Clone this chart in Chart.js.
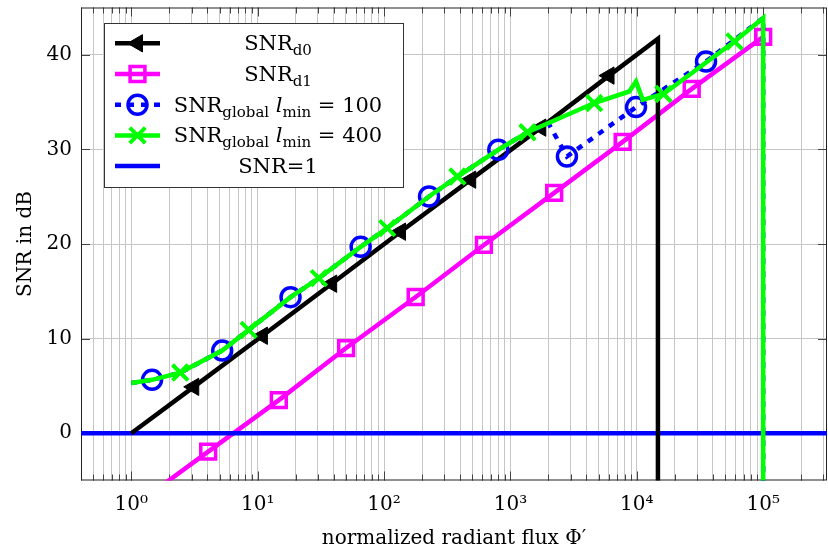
<!DOCTYPE html>
<html><head><meta charset="utf-8">
<script src="https://cdn.jsdelivr.net/npm/chart.js@4.4.1/dist/chart.umd.min.js"></script>
<style>html,body{margin:0;padding:0;background:#fff}canvas{display:block}</style>
</head><body>
<canvas id="c" width="828" height="550" style="width:828px;height:550px"></canvas>
<script>
// ---------------- data ----------------
const xMajorValues = [1, 10, 100, 1000, 10000, 100000];
const xTickLabels = ['10\u2070', '10\u00B9', '10\u00B2', '10\u00B3', '10\u2074', '10\u2075'];
const yTickValues = [0, 10, 20, 30, 40];
const yTickLabels = ['0', '10', '20', '30', '40'];
const xTitle = 'normalized radiant flux \u03A6\u2032';
const yTitle = 'SNR in dB';

// SNR_d0 (black, left triangles)
const d0X = [1, 3.12, 10.9, 38.5, 135, 485, 1740, 6030, 14700, 14700];
const d0Y = [0, 4.9, 10.3, 15.8, 21.3, 26.8, 32.3, 37.8, 41.7, -10];
const d0Marks = [1, 2, 3, 4, 5, 6, 7];

// SNR_d1 (magenta, squares)
const d1X = [1, 4.06, 14.7, 50.1, 178, 617, 2220, 7730, 27200, 100000];
const d1Y = [-7.9, -1.95, 3.5, 9.0, 14.4, 19.9, 25.4, 30.8, 36.4, 41.9];
const d1Marks = [1, 2, 3, 4, 5, 6, 7, 8, 9];

// SNR_global, l_min = 100 (blue dotted, circles)
const g100X = [1, 1.46, 2.44, 5.24, 8.49, 18.2, 30.5, 65.3, 106, 227, 381, 802, 1365, 2010, 2800, 9860, 35300, 100000, 100000];
const g100Y = [5.3, 5.64, 6.41, 8.73, 10.92, 14.38, 16.39, 19.7, 21.68, 25.02, 27.13, 29.96, 31.81, 32.7, 29.25, 34.47, 39.29, 43.9, -10];
const g100Marks = [1, 3, 5, 7, 9, 11, 14, 15, 16];

// SNR_global, l_min = 400 (green, crosses)
const g400X = [1, 1.46, 2.44, 5.24, 8.49, 18.2, 30.5, 65.3, 106, 227, 381, 802, 1365, 4600, 8710, 9860, 11150, 16250, 59300, 100000, 100000];
const g400Y = [5.3, 5.64, 6.41, 8.73, 10.92, 14.38, 16.39, 19.7, 21.68, 25.02, 27.13, 29.96, 31.81, 34.9, 36.12, 37.18, 35.24, 35.86, 41.41, 43.9, -10];
const g400Marks = [2, 4, 6, 8, 10, 12, 13, 17, 18];

// SNR = 1 reference line
const snr1X = [0.1, 1000000];
const snr1Y = [0, 0];

// legend texts: [text, kind]  kind: n = normal, sub = subscript, it = italic
const legendLabels = [
  [['SNR', 'n'], ['d0', 'sub']],
  [['SNR', 'n'], ['d1', 'sub']],
  [['SNR', 'n'], ['global', 'sub'], [' ', 'n'], ['l', 'it'], ['min', 'sub'], [' = 100', 'n']],
  [['SNR', 'n'], ['global', 'sub'], [' ', 'n'], ['l', 'it'], ['min', 'sub'], [' = 400', 'n']],
  [['SNR=1', 'n']]
];

const xMin = 0.4, xMax = 3.2e5, yMin = -5, yMax = 45;

// ---------------- chart ----------------
const FONT = '"DejaVu Serif", serif';
Chart.defaults.font.family = FONT;
Chart.defaults.color = '#000';

function pts(xs, ys) { return xs.map((x, i) => ({x: x, y: ys[i]})); }
function markR(list, r) { return ctx => list.includes(ctx.dataIndex) ? r : 0; }

const datasets = [
  {label: 'd0', data: pts(d0X, d0Y), borderColor: '#000', backgroundColor: '#000', borderWidth: 4.5,
   pointStyle: 'triangle', pointRotation: -90, pointRadius: markR(d0Marks, 10), pointBorderWidth: 1,
   pointBackgroundColor: '#000', pointBorderColor: '#000', order: 2},
  {label: 'd1', data: pts(d1X, d1Y), borderColor: '#ff00ff', backgroundColor: 'rgba(0,0,0,0)', borderWidth: 4.5,
   pointStyle: 'rect', pointRadius: markR(d1Marks, 10.5), pointBorderWidth: 3.5,
   pointBackgroundColor: 'rgba(0,0,0,0)', pointBorderColor: '#ff00ff', order: 4},
  {label: 'g100', data: pts(g100X, g100Y), borderColor: '#0000ff', backgroundColor: 'rgba(0,0,0,0)', borderWidth: 4.5,
   borderDash: [6, 7], pointStyle: 'circle', pointRadius: markR(g100Marks, 9.5), pointBorderWidth: 3.5,
   pointBackgroundColor: 'rgba(0,0,0,0)', pointBorderColor: '#0000ff', order: 1},
  {label: 'g400', data: pts(g400X, g400Y), borderColor: '#00ff00', backgroundColor: 'rgba(0,0,0,0)', borderWidth: 4.5,
   pointStyle: 'crossRot', pointRadius: markR(g400Marks, 11), pointBorderWidth: 4,
   pointBackgroundColor: 'rgba(0,0,0,0)', pointBorderColor: '#00ff00', order: 0},
  {label: 'snr1', data: pts(snr1X, snr1Y), borderColor: '#0000ff', backgroundColor: 'rgba(0,0,0,0)', borderWidth: 4.5,
   pointRadius: 0, order: 3}
];
datasets.forEach(d => { d.clip = 0; d.tension = 0; d.fill = false; d.borderJoinStyle = 'miter'; d.pointHoverRadius = 0; });

function drawMarker(ctx, ds, x, y) {
  const r = ds.pointStyle === 'triangle' ? 10 : ds.pointStyle === 'rect' ? 10.5 : ds.pointStyle === 'circle' ? 9.5 : 11;
  ctx.save();
  ctx.setLineDash([]);
  ctx.lineWidth = ds.pointBorderWidth;
  ctx.strokeStyle = ds.pointBorderColor;
  ctx.fillStyle = ds.pointBackgroundColor;
  ctx.beginPath();
  if (ds.pointStyle === 'triangle') {
    let a = (ds.pointRotation || 0) * Math.PI / 180;
    for (let k = 0; k < 3; k++) {
      const px = x + Math.sin(a) * r, py = y - Math.cos(a) * r;
      if (k === 0) ctx.moveTo(px, py); else ctx.lineTo(px, py);
      a += 2 * Math.PI / 3;
    }
    ctx.closePath(); ctx.fill(); ctx.stroke();
  } else if (ds.pointStyle === 'rect') {
    const s = Math.SQRT1_2 * r;
    ctx.rect(x - s, y - s, 2 * s, 2 * s); ctx.stroke();
  } else if (ds.pointStyle === 'circle') {
    ctx.arc(x, y, r, 0, 2 * Math.PI); ctx.stroke();
  } else if (ds.pointStyle === 'crossRot') {
    const s = Math.SQRT1_2 * r;
    ctx.moveTo(x - s, y - s); ctx.lineTo(x + s, y + s);
    ctx.moveTo(x - s, y + s); ctx.lineTo(x + s, y - s); ctx.stroke();
  }
  ctx.restore();
}

function drawRich(ctx, parts, cx, base) {
  const fonts = {n: '21px ' + FONT, sub: '15px ' + FONT, it: 'italic 21px ' + FONT};
  let w = 0;
  parts.forEach(p => { ctx.font = fonts[p[1]]; w += ctx.measureText(p[0]).width; });
  let x = cx - w / 2;
  ctx.textAlign = 'left'; ctx.textBaseline = 'alphabetic'; ctx.fillStyle = '#000';
  parts.forEach(p => {
    ctx.font = fonts[p[1]];
    ctx.fillText(p[0], x, p[1] === 'sub' ? base + 5 : base);
    x += ctx.measureText(p[0]).width;
  });
}

const framePlugin = {
  id: 'frame',
  beforeDatasetsDraw(chart) {
    const {ctx, chartArea: a, scales} = chart;
    ctx.save();
    ctx.strokeStyle = '#444'; ctx.lineWidth = 1;
    ctx.beginPath();
    scales.x.ticks.forEach(t => {
      const px = Math.round(scales.x.getPixelForValue(t.value)) + 0.5;
      const len = xMajorValues.includes(t.value) ? 9 : 6;
      ctx.moveTo(px, a.bottom); ctx.lineTo(px, a.bottom - len);
      ctx.moveTo(px, a.top); ctx.lineTo(px, a.top + len);
    });
    scales.y.ticks.forEach(t => {
      const py = Math.round(scales.y.getPixelForValue(t.value)) + 0.5;
      ctx.moveTo(a.left, py); ctx.lineTo(a.left + 9, py);
      ctx.moveTo(a.right, py); ctx.lineTo(a.right - 9, py);
    });
    ctx.stroke();
    ctx.strokeStyle = '#222';
    ctx.strokeRect(a.left + 0.5, a.top + 0.5, a.right - a.left - 1, a.bottom - a.top - 1);
    ctx.restore();
  }
};

const legendPlugin = {
  id: 'texLegend',
  afterDraw(chart) {
    const ctx = chart.ctx;
    const bx = 104, by = 23, bw = 299, bh = 164;
    ctx.save();
    ctx.fillStyle = '#fff'; ctx.fillRect(bx, by, bw, bh);
    ctx.strokeStyle = '#333'; ctx.lineWidth = 1; ctx.strokeRect(bx + 0.5, by + 0.5, bw, bh);
    chart.data.datasets.forEach((ds, i) => {
      const y = 43.3 + i * 30.7;
      ctx.save();
      ctx.strokeStyle = ds.borderColor; ctx.lineWidth = ds.borderWidth;
      ctx.setLineDash(ds.borderDash || []);
      ctx.beginPath(); ctx.moveTo(115, y); ctx.lineTo(160, y); ctx.stroke();
      ctx.restore();
      if (ds.pointStyle) drawMarker(ctx, ds, 137.5, y);
      drawRich(ctx, legendLabels[i], 278, y + 7);
    });
    ctx.restore();
  }
};

function xTickList() {
  const out = [];
  for (let e = -1; e <= 5; e++) {
    for (let m = 1; m <= 9; m++) {
      const v = m * Math.pow(10, e);
      if (v >= xMin && v <= xMax) out.push({value: v});
    }
  }
  return out;
}

function noPad(s) { s.paddingTop = 0; s.paddingBottom = 0; s.paddingLeft = 0; s.paddingRight = 0; }

new Chart(document.getElementById('c'), {
  type: 'line',
  data: {datasets: datasets},
  plugins: [framePlugin, legendPlugin],
  options: {
    responsive: false,
    animation: false,
    events: [],
    layout: {autoPadding: false, padding: {top: 7.5, right: 1, left: 0, bottom: 0}},
    plugins: {legend: {display: false}, tooltip: {enabled: false}},
    scales: {
      x: {
        type: 'logarithmic', min: xMin, max: xMax,
        afterBuildTicks: s => { s.ticks = xTickList(); },
        afterFit: s => { s.height = 69.5; noPad(s); },
        grid: {color: '#c6c6c6', lineWidth: 1, drawTicks: false},
        border: {display: false},
        ticks: {
          autoSkip: false, maxRotation: 0, minRotation: 0, padding: 12.5,
          font: {size: 20}, color: '#000',
          callback: v => { const k = xMajorValues.indexOf(v); return k >= 0 ? xTickLabels[k] : ''; }
        },
        title: {display: true, text: xTitle, font: {size: 20}, color: '#000', padding: {top: 0, bottom: -1}}
      },
      y: {
        type: 'linear', min: yMin, max: yMax,
        afterBuildTicks: s => { s.ticks = yTickValues.map(v => ({value: v})); },
        afterFit: s => { s.width = 81; noPad(s); },
        grid: {color: '#c6c6c6', lineWidth: 1, drawTicks: false},
        border: {display: false},
        ticks: {
          padding: 9, font: {size: 20}, color: '#000',
          callback: v => { const k = yTickValues.indexOf(v); return k >= 0 ? yTickLabels[k] : ''; }
        },
        title: {display: true, text: yTitle, font: {size: 20}, color: '#000', padding: {top: 14, bottom: 0}}
      }
    }
  }
});
</script>
</body></html>
